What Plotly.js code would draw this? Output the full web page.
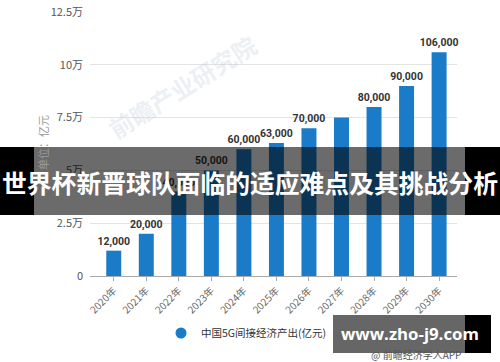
<!DOCTYPE html>
<html>
<head>
<meta charset="utf-8">
<script src="https://cdn.plot.ly/plotly-3.0.1.min.js"></script>
<style>html,body{margin:0;padding:0;background:#fff;}#chart{width:500px;height:362px;}</style>
</head>
<body>
<div id="chart"></div>
<script>
const years = ['2020年','2021年','2022年','2023年','2024年','2025年','2026年','2027年','2028年','2029年','2030年'];
const output = [12000, 20000, 40000, 50000, 60000, 63000, 70000, 75000, 80000, 90000, 106000];
const showLabel = [true, true, true, true, true, true, true, false, true, true, true];
const yTickVals = [0, 25000, 50000, 75000, 100000, 125000];
const yTickText = ['0', '2.5万', '5万', '7.5万', '10万', '12.5万'];
const seriesName = '中国5G间接经济产出(亿元)';
const bannerText = '世界杯新晋球队面临的适应难点及其挑战分析';

const labels = output.map((v, i) => showLabel[i] ? v.toLocaleString('en-US') : '');
const cjk = '"Noto Sans CJK SC", "Noto Sans", sans-serif';

const bar = {
  type: 'bar', x: years, y: output, text: labels, textposition: 'outside',
  cliponaxis: false, constraintext: 'none',
  textfont: {family: 'Roboto, "Noto Sans", sans-serif', size: 10.5, color: '#333', weight: 'bold'},
  marker: {color: '#1a7bc8'}, showlegend: false, hoverinfo: 'none'
};
const legendDummy = {
  type: 'scatter', mode: 'markers', x: [null], y: [null], name: seriesName,
  marker: {symbol: 'circle', size: 11, color: '#1a7bc8'}, showlegend: true
};

const L = 90, R = 457, T = 12, B = 276;
const px = p => (p - L) / (R - L);
const py = p => (B - p) / (B - T);

function ann(text, x, y, font, extra) {
  return Object.assign({text: text, xref: 'paper', yref: 'paper', x: px(x), y: py(y),
    xanchor: 'center', yanchor: 'middle', showarrow: false, font: font}, extra || {});
}

const layout = {
  width: 500, height: 362,
  margin: {l: L, r: 500 - R, t: T, b: 362 - B, pad: 0},
  paper_bgcolor: '#fff', plot_bgcolor: '#fff',
  bargap: 0.54,
  font: {family: cjk},
  xaxis: {
    type: 'category', range: [-0.73, 10.55], tickangle: -45,
    tickfont: {size: 10, color: '#666', family: cjk},
    ticks: 'outside', ticklen: 4, tickcolor: '#aaa',
    showline: true, linecolor: '#aaa', linewidth: 1, showgrid: false, fixedrange: true
  },
  yaxis: {
    range: [0, 125000], tickvals: yTickVals, ticktext: yTickText,
    tickfont: {size: 11, color: '#555', family: cjk},
    gridcolor: '#e3e3e3', zeroline: false, showline: false, ticks: '', ticklabelstandoff: 6
  },
  showlegend: true,
  legend: {orientation: 'h', x: px(161), xanchor: 'left', y: py(333), yanchor: 'middle',
    font: {size: 10.5, color: '#333', family: cjk}, bgcolor: 'rgba(0,0,0,0)'},
  shapes: [
    {type: 'rect', xref: 'paper', yref: 'paper', x0: px(0), x1: px(34), y0: py(215), y1: py(147), fillcolor: '#000', line: {width: 0}, layer: 'above'},
    {type: 'rect', xref: 'paper', yref: 'paper', x0: px(34), x1: px(465), y0: py(215), y1: py(147), fillcolor: 'rgba(0,0,0,0.58)', line: {width: 0}, layer: 'above'},
    {type: 'rect', xref: 'paper', yref: 'paper', x0: px(465), x1: px(500), y0: py(215), y1: py(147), fillcolor: '#000', line: {width: 0}, layer: 'above'},
    {type: 'rect', xref: 'paper', yref: 'paper', x0: px(333), x1: px(465), y0: py(353), y1: py(315), fillcolor: 'rgba(0,0,0,0.6)', line: {width: 0}, layer: 'above'},
    {type: 'rect', xref: 'paper', yref: 'paper', x0: px(465), x1: px(491), y0: py(353), y1: py(315), fillcolor: '#000', line: {width: 0}, layer: 'above'}
  ],
  annotations: [
    ann('前瞻产业研究院', 182, 86, {size: 24, color: 'rgba(190,200,215,0.3)', family: cjk, weight: 'bold'}, {textangle: -32}),
    ann('单位：亿元', 43, 143, {size: 11, color: '#999', family: cjk}, {textangle: -90}),
    ann(bannerText, 250, 182, {size: 24.8, color: '#fff', family: cjk, weight: 'bold'}),
    ann('@ 前瞻经济学人APP', 416, 354, {size: 10, color: '#555', family: cjk}),
    ann('www.zho-j9.com', 410, 333, {size: 16.8, color: '#fff', family: '"Open Sans", "DejaVu Sans", sans-serif', weight: 'bold'})
  ]
};

Plotly.newPlot('chart', [bar, legendDummy], layout, {displayModeBar: false, staticPlot: true});
</script>
</body>
</html>
